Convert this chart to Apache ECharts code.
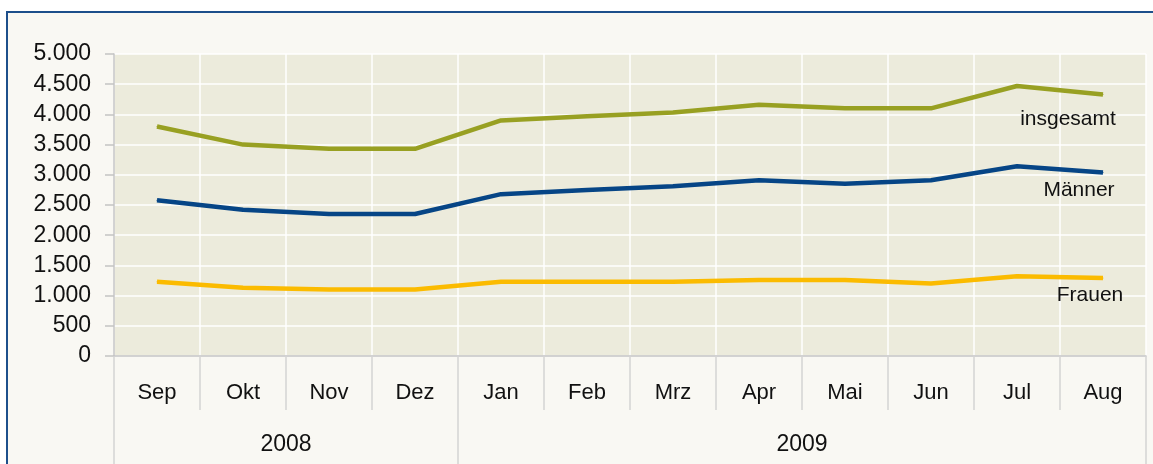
<!DOCTYPE html>
<html>
<head>
<meta charset="utf-8">
<script src="https://cdn.jsdelivr.net/npm/echarts@6/dist/echarts.min.js"></script>
<style>
  html, body { margin: 0; padding: 0; background: #ffffff; }
  #frame {
    position: absolute; left: 6px; top: 11px; width: 1160px; height: 470px;
    border: 2px solid #1d4f8b; background: #f9f8f3;
  }
  #chart { position: absolute; left: -8px; top: -13px; width: 1153px; height: 464px; }
</style>
</head>
<body>
<div id="frame"><div id="chart"></div></div>
<script>
// Monate und Jahre
const months = ['Sep', 'Okt', 'Nov', 'Dez', 'Jan', 'Feb', 'Mrz', 'Apr', 'Mai', 'Jun', 'Jul', 'Aug']
const years = ['2008', '2009']
const yearStart = [0, 4]   // Index des ersten Monats je Jahr
const yearLen = [4, 8]

const insgesamt = [3800, 3500, 3430, 3430, 3900, 3970, 4030, 4160, 4100, 4100, 4470, 4330]
const maenner = [2580, 2420, 2350, 2350, 2680, 2750, 2810, 2910, 2850, 2910, 3140, 3040]
const frauen = [1230, 1130, 1100, 1100, 1230, 1230, 1230, 1260, 1260, 1200, 1320, 1290]

const chart = echarts.init(document.getElementById('chart'))

const fmt = v => String(v).replace(/\B(?=(\d{3})+(?!\d))/g, '.')

function withEndLabel (values, name, offset) {
  return values.map((v, i) => i === values.length - 1
    ? { value: v, label: { show: true, formatter: name, position: 'bottom', distance: 5, offset: offset } }
    : v)
}

const font = 'Liberation Sans, Arial, sans-serif'
const text = size => ({ fontFamily: font, fontSize: size, color: '#111' })

function line (name, values, color, offset) {
  return {
    name: name,
    type: 'line',
    data: withEndLabel(values, name, offset),
    symbol: 'circle',
    symbolSize: 1,
    showSymbol: true,
    itemStyle: { color: color },
    lineStyle: { color: color, width: 4.5 },
    label: Object.assign({ show: false }, text(21))
  }
}

const option = {
  backgroundColor: 'transparent',
  animation: false,
  grid: { left: 114, right: 7, top: 54, bottom: 108, show: true, backgroundColor: '#ecebdc', borderWidth: 0 },
  xAxis: [{
    type: 'category',
    data: months,
    boundaryGap: true,
    axisLine: { show: true, lineStyle: { color: '#c4c4c4', width: 1.5 } },
    axisTick: { show: true, length: 54, lineStyle: { color: '#d4d4d4', width: 1.5 } },
    axisLabel: Object.assign({ margin: 26 }, text(22)),
    splitLine: { show: true, lineStyle: { color: '#ffffff', width: 1.5 } }
  }, {
    type: 'value',
    min: 0,
    max: 12,
    position: 'bottom',
    axisLine: { show: false },
    axisTick: {
      show: true, length: 110,
      customValues: [0, yearStart[1], 12],
      lineStyle: { color: '#d4d4d4', width: 1.5 }
    },
    axisLabel: Object.assign({
      margin: 77,
      customValues: yearStart.map((s, i) => s + yearLen[i] / 2),
      formatter: v => years[yearStart.findIndex((s, i) => v === s + yearLen[i] / 2)]
    }, text(23)),
    splitLine: { show: false }
  }],
  yAxis: {
    type: 'value',
    min: 0,
    max: 5000,
    interval: 500,
    axisLine: { show: true, lineStyle: { color: '#c4c4c4', width: 1.5 } },
    axisTick: { show: true, length: 9, lineStyle: { color: '#c4c4c4', width: 1.5 } },
    axisLabel: Object.assign({ margin: 23, formatter: fmt }, text(23)),
    splitLine: { show: true, lineStyle: { color: '#ffffff', width: 1.5 } }
  },
  series: [
    line('insgesamt', insgesamt, '#98a022', [-35, 9]),
    line('Männer', maenner, '#064586', [-24, 2]),
    line('Frauen', frauen, '#fbbb00', [-13, 1])
  ]
}

chart.setOption(option)
</script>
</body>
</html>
